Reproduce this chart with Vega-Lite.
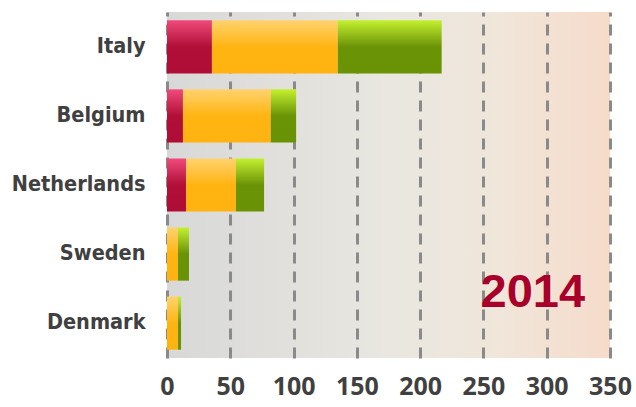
{
  "$schema": "https://vega.github.io/schema/vega-lite/v6.json",
  "width": 443,
  "height": 346,
  "autosize": {"type": "none"},
  "padding": {"left": 167, "top": 12, "right": 26, "bottom": 49},
  "background": "white",
  "config": {
    "view": {
      "stroke": null,
      "fill": {
        "gradient": "linear",
        "x1": 0, "y1": 0, "x2": 1, "y2": 0,
        "stops": [
          {"offset": 0, "color": "#d8d8d8"},
          {"offset": 0.5, "color": "#e9e7e0"},
          {"offset": 0.75, "color": "#f0e6da"},
          {"offset": 1, "color": "#f6dbca"}
        ]
      }
    }
  },
  "datasets": {
    "bars": [
      {"country": "Italy", "series": "s1", "value": 35.5},
      {"country": "Italy", "series": "s2", "value": 99.5},
      {"country": "Italy", "series": "s3", "value": 82},
      {"country": "Belgium", "series": "s1", "value": 12.6},
      {"country": "Belgium", "series": "s2", "value": 69.4},
      {"country": "Belgium", "series": "s3", "value": 20},
      {"country": "Netherlands", "series": "s1", "value": 15},
      {"country": "Netherlands", "series": "s2", "value": 39.5},
      {"country": "Netherlands", "series": "s3", "value": 22.2},
      {"country": "Sweden", "series": "s1", "value": 0},
      {"country": "Sweden", "series": "s2", "value": 8.7},
      {"country": "Sweden", "series": "s3", "value": 8.7},
      {"country": "Denmark", "series": "s1", "value": 0},
      {"country": "Denmark", "series": "s2", "value": 8.7},
      {"country": "Denmark", "series": "s3", "value": 2.4}
    ],
    "note": [
      {"country": "Denmark", "value": 289, "label": "2014"}
    ]
  },
  "layer": [
    {
      "data": {"name": "bars"},
      "mark": {"type": "bar"},
      "encoding": {
        "y": {
          "field": "country", "type": "nominal",
          "sort": ["Italy", "Belgium", "Netherlands", "Sweden", "Denmark"],
          "scale": {"domain": ["Italy", "Belgium", "Netherlands", "Sweden", "Denmark"], "paddingInner": 0.23, "paddingOuter": 0.12},
          "axis": {
            "title": null, "domain": false, "ticks": false,
            "labelFont": "DejaVu Sans Condensed", "labelFontWeight": "bold",
            "labelFontSize": 21.5, "labelColor": "#404040", "labelPadding": 22
          }
        },
        "x": {
          "field": "value", "type": "quantitative", "stack": "zero",
          "scale": {"domain": [0, 350], "nice": false},
          "axis": {
            "title": null, "domain": false, "ticks": false,
            "values": [0, 50, 100, 150, 200, 250, 300, 350],
            "labelOverlap": false, "labelFlush": false,
            "grid": true, "gridColor": "#8a8a8a", "gridWidth": 3,
            "gridDash": [11, 8], "gridOpacity": 1,
            "labelFont": "Open Sans", "labelFontWeight": "bold",
            "labelFontSize": 25, "labelColor": "#404040", "labelPadding": 16
          }
        },
        "order": {"field": "series", "type": "nominal", "sort": "ascending"},
        "color": {
          "condition": [
            {"test": "datum.series === 's1'", "value": {
              "gradient": "linear", "x1": 0, "y1": 0, "x2": 0, "y2": 1,
              "stops": [
                {"offset": 0, "color": "#f04a7b"},
                {"offset": 0.5, "color": "#b10f38"},
                {"offset": 1, "color": "#b00d36"}
              ]
            }},
            {"test": "datum.series === 's2'", "value": {
              "gradient": "linear", "x1": 0, "y1": 0, "x2": 0, "y2": 1,
              "stops": [
                {"offset": 0, "color": "#ffd26e"},
                {"offset": 0.5, "color": "#ffb412"},
                {"offset": 1, "color": "#ffb310"}
              ]
            }}
          ],
          "value": {
            "gradient": "linear", "x1": 0, "y1": 0, "x2": 0, "y2": 1,
            "stops": [
              {"offset": 0, "color": "#c4f030"},
              {"offset": 0.5, "color": "#6b9306"},
              {"offset": 1, "color": "#6a9205"}
            ]
          }
        }
      }
    },
    {
      "data": {"name": "note"},
      "mark": {
        "type": "text", "font": "Liberation Sans", "fontWeight": "bold",
        "fontSize": 47, "color": "#a8002a", "baseline": "alphabetic",
        "align": "center", "dy": -16
      },
      "encoding": {
        "y": {"field": "country", "type": "nominal", "sort": ["Italy", "Belgium", "Netherlands", "Sweden", "Denmark"]},
        "x": {"field": "value", "type": "quantitative"},
        "text": {"field": "label"}
      }
    }
  ]
}
